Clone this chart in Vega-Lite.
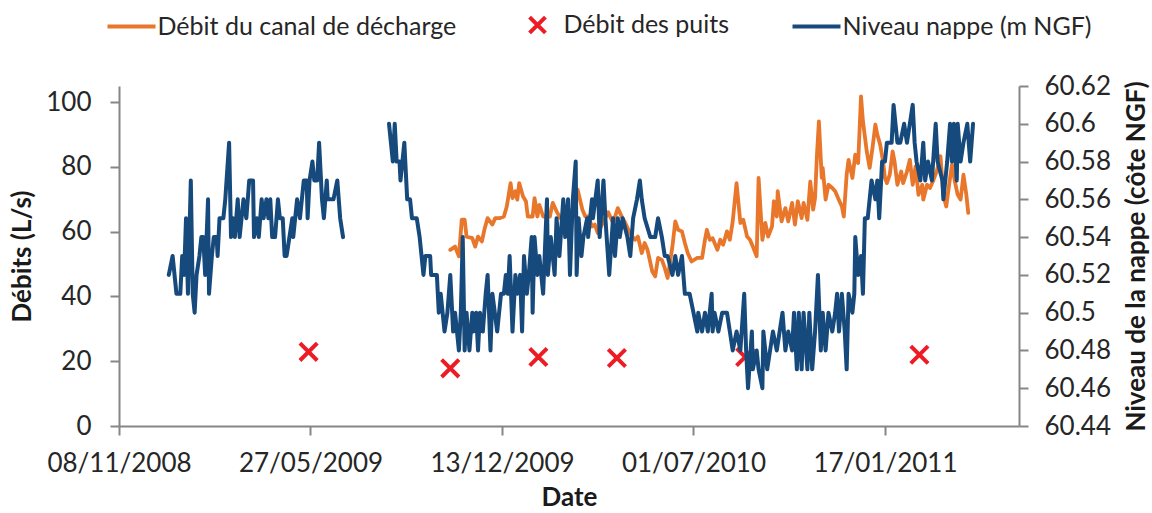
{
"$schema": "https://vega.github.io/schema/vega-lite/v6.json",
"width": 900, "height": 340,
"autosize": {"type": "none"},
"padding": {"left": 119, "top": 86, "right": 133, "bottom": 87},
"background": "white",
"datasets": {
"canal": [
{"date":"2009-10-20","debit":54.4},{"date":"2009-10-25","debit":55.4},{"date":"2009-10-29","debit":52.4},{"date":"2009-11-01","debit":63.7},{"date":"2009-11-04","debit":63.7},{"date":"2009-11-06","debit":58.5},{"date":"2009-11-12","debit":58},{"date":"2009-11-15","debit":55.4},{"date":"2009-11-18","debit":58.5},{"date":"2009-11-22","debit":57},{"date":"2009-11-25","debit":61.1},{"date":"2009-11-28","debit":64.2},{"date":"2009-12-03","debit":62.2},{"date":"2009-12-06","debit":64.2},{"date":"2009-12-11","debit":64.2},{"date":"2009-12-15","debit":64.7},{"date":"2009-12-18","debit":67.8},{"date":"2009-12-22","debit":75},{"date":"2009-12-24","debit":70.4},{"date":"2009-12-27","debit":72.5},{"date":"2009-12-29","debit":69.9},{"date":"2009-12-31","debit":75},
{"date":"2010-01-04","debit":70.9},{"date":"2010-01-07","debit":69.4},{"date":"2010-01-09","debit":64.7},{"date":"2010-01-14","debit":64.7},{"date":"2010-01-16","debit":70.4},{"date":"2010-01-19","debit":64.7},{"date":"2010-01-21","debit":68.3},{"date":"2010-01-25","debit":64.7},{"date":"2010-01-29","debit":64.7},{"date":"2010-02-01","debit":64.7},{"date":"2010-02-04","debit":68.9},{"date":"2010-02-08","debit":66.3},{"date":"2010-02-12","debit":64.2},{"date":"2010-02-17","debit":65.8},{"date":"2010-02-21","debit":66.8},{"date":"2010-02-25","debit":65.8},{"date":"2010-03-02","debit":73},{"date":"2010-03-07","debit":66.8},{"date":"2010-03-10","debit":64.7},{"date":"2010-03-13","debit":64.7},{"date":"2010-03-17","debit":61.6},{"date":"2010-03-20","debit":62.2},{"date":"2010-03-23","debit":59.6},{"date":"2010-03-29","debit":63.2},{"date":"2010-04-03","debit":66},{"date":"2010-04-08","debit":62.7},{"date":"2010-04-13","debit":67.3},{"date":"2010-04-17","debit":64.7},{"date":"2010-04-20","debit":63.2},{"date":"2010-04-24","debit":60.6},{"date":"2010-04-28","debit":58.5},{"date":"2010-05-01","debit":57.5},{"date":"2010-05-04","debit":58.5},{"date":"2010-05-08","debit":53.4},{"date":"2010-05-11","debit":56.5},{"date":"2010-05-14","debit":54.4},{"date":"2010-05-19","debit":47.7},{"date":"2010-05-22","debit":46.2},{"date":"2010-05-25","debit":51.9},{"date":"2010-05-29","debit":51.3},{"date":"2010-06-01","debit":48.8},{"date":"2010-06-04","debit":45.7},{"date":"2010-06-09","debit":55.4},{"date":"2010-06-12","debit":63.2},{"date":"2010-06-15","debit":60.6},{"date":"2010-06-19","debit":60.1},{"date":"2010-06-22","debit":56.5},{"date":"2010-06-25","debit":53.4},{"date":"2010-06-29","debit":50.8},{"date":"2010-07-05","debit":51.9},{"date":"2010-07-10","debit":51.9},{"date":"2010-07-13","debit":57.5},{"date":"2010-07-15","debit":60.6},{"date":"2010-07-18","debit":57.5},{"date":"2010-07-21","debit":58},{"date":"2010-07-26","debit":54.4},{"date":"2010-07-29","debit":57.5},{"date":"2010-08-01","debit":56},{"date":"2010-08-05","debit":60.1},{"date":"2010-08-08","debit":57.5},{"date":"2010-08-11","debit":63.2},{"date":"2010-08-15","debit":75},{"date":"2010-08-19","debit":62.7},{"date":"2010-08-22","debit":63.7},{"date":"2010-08-26","debit":58.5},{"date":"2010-08-29","debit":57.5},{"date":"2010-09-01","debit":55.4},{"date":"2010-09-05","debit":52.4},{"date":"2010-09-07","debit":76.6},{"date":"2010-09-11","debit":57.5},{"date":"2010-09-14","debit":62.7},{"date":"2010-09-17","debit":58.5},{"date":"2010-09-21","debit":61.6},{"date":"2010-09-23","debit":69.4},{"date":"2010-09-26","debit":64.7},{"date":"2010-09-27","debit":72.5},{"date":"2010-10-01","debit":63.2},{"date":"2010-10-05","debit":67.3},{"date":"2010-10-08","debit":63.2},{"date":"2010-10-12","debit":68.9},{"date":"2010-10-15","debit":62.2},{"date":"2010-10-18","debit":69.4},{"date":"2010-10-22","debit":64.2},{"date":"2010-10-24","debit":68.9},{"date":"2010-10-28","debit":63.7},{"date":"2010-10-31","debit":75.5},{"date":"2010-11-03","debit":66.8},{"date":"2010-11-05","debit":70.4},{"date":"2010-11-07","debit":83.8},{"date":"2010-11-09","debit":94.1},{"date":"2010-11-12","debit":76.6},{"date":"2010-11-13","debit":79.7},{"date":"2010-11-16","debit":69.9},{"date":"2010-11-19","debit":74.5},{"date":"2010-11-23","debit":73.5},{"date":"2010-11-26","debit":72.5},{"date":"2010-11-29","debit":70.4},{"date":"2010-12-03","debit":67.8},{"date":"2010-12-05","debit":64.7},{"date":"2010-12-08","debit":77.6},{"date":"2010-12-10","debit":82.2},{"date":"2010-12-14","debit":76.6},{"date":"2010-12-17","debit":83.8},{"date":"2010-12-20","debit":81.2},{"date":"2010-12-23","debit":101.8},{"date":"2010-12-25","debit":94.1},{"date":"2010-12-27","debit":89.5},{"date":"2010-12-29","debit":84.8},
{"date":"2011-01-01","debit":79.7},{"date":"2011-01-04","debit":85.9},{"date":"2011-01-07","debit":93.1},{"date":"2011-01-09","debit":90},{"date":"2011-01-12","debit":86.9},{"date":"2011-01-15","debit":81.7},{"date":"2011-01-17","debit":76.6},{"date":"2011-01-19","debit":75},{"date":"2011-01-22","debit":77.6},{"date":"2011-01-25","debit":84.8},{"date":"2011-01-27","debit":81.7},{"date":"2011-01-30","debit":74.5},{"date":"2011-02-03","debit":78.6},{"date":"2011-02-05","debit":75},{"date":"2011-02-09","debit":78.6},{"date":"2011-02-12","debit":82.2},{"date":"2011-02-15","debit":74.5},{"date":"2011-02-18","debit":80.2},{"date":"2011-02-21","debit":71.4},{"date":"2011-02-25","debit":74.5},{"date":"2011-02-26","debit":69.9},{"date":"2011-03-02","debit":74.5},{"date":"2011-03-05","debit":73.5},{"date":"2011-03-08","debit":75.5},{"date":"2011-03-12","debit":78.6},{"date":"2011-03-16","debit":83.3},{"date":"2011-03-19","debit":71.4},{"date":"2011-03-22","debit":67.8},{"date":"2011-03-25","debit":74.5},{"date":"2011-03-28","debit":80.7},{"date":"2011-03-31","debit":75.5},{"date":"2011-04-03","debit":71.4},{"date":"2011-04-06","debit":69.9},{"date":"2011-04-09","debit":77.6},{"date":"2011-04-12","debit":71.4},{"date":"2011-04-14","debit":65.8}
],
"puits": [
{"date":"2009-05-25","debit":22.9},{"date":"2009-10-20","debit":17.8},{"date":"2010-01-20","debit":21.3},{"date":"2010-04-12","debit":21.0},{"date":"2010-08-24","debit":21.3},{"date":"2011-02-22","debit":22.0}
],
"nappe": [
{"date":"2008-12-30","niveau":60.52,"seg":1},{"date":"2009-01-03","niveau":60.53,"seg":1},{"date":"2009-01-07","niveau":60.51,"seg":1},{"date":"2009-01-11","niveau":60.51,"seg":1},{"date":"2009-01-13","niveau":60.53,"seg":1},{"date":"2009-01-15","niveau":60.52,"seg":1},{"date":"2009-01-17","niveau":60.55,"seg":1},{"date":"2009-01-19","niveau":60.51,"seg":1},{"date":"2009-01-22","niveau":60.57,"seg":1},{"date":"2009-01-24","niveau":60.51,"seg":1},{"date":"2009-01-26","niveau":60.50,"seg":1},{"date":"2009-01-28","niveau":60.52,"seg":1},{"date":"2009-01-31","niveau":60.53,"seg":1},{"date":"2009-02-02","niveau":60.54,"seg":1},{"date":"2009-02-04","niveau":60.54,"seg":1},{"date":"2009-02-06","niveau":60.52,"seg":1},{"date":"2009-02-09","niveau":60.56,"seg":1},{"date":"2009-02-10","niveau":60.51,"seg":1},{"date":"2009-02-13","niveau":60.53,"seg":1},{"date":"2009-02-15","niveau":60.54,"seg":1},{"date":"2009-02-18","niveau":60.54,"seg":1},{"date":"2009-02-19","niveau":60.53,"seg":1},{"date":"2009-02-21","niveau":60.55,"seg":1},{"date":"2009-02-25","niveau":60.55,"seg":1},{"date":"2009-02-27","niveau":60.56,"seg":1},{"date":"2009-03-03","niveau":60.59,"seg":1},{"date":"2009-03-05","niveau":60.54,"seg":1},{"date":"2009-03-07","niveau":60.55,"seg":1},{"date":"2009-03-09","niveau":60.54,"seg":1},{"date":"2009-03-12","niveau":60.56,"seg":1},{"date":"2009-03-14","niveau":60.54,"seg":1},{"date":"2009-03-18","niveau":60.56,"seg":1},{"date":"2009-03-21","niveau":60.55,"seg":1},{"date":"2009-03-24","niveau":60.57,"seg":1},{"date":"2009-03-28","niveau":60.57,"seg":1},{"date":"2009-03-29","niveau":60.54,"seg":1},{"date":"2009-04-01","niveau":60.55,"seg":1},{"date":"2009-04-03","niveau":60.54,"seg":1},{"date":"2009-04-06","niveau":60.56,"seg":1},{"date":"2009-04-08","niveau":60.55,"seg":1},{"date":"2009-04-11","niveau":60.56,"seg":1},{"date":"2009-04-13","niveau":60.55,"seg":1},{"date":"2009-04-15","niveau":60.56,"seg":1},{"date":"2009-04-17","niveau":60.54,"seg":1},{"date":"2009-04-20","niveau":60.54,"seg":1},{"date":"2009-04-23","niveau":60.56,"seg":1},{"date":"2009-04-25","niveau":60.55,"seg":1},{"date":"2009-04-28","niveau":60.55,"seg":1},{"date":"2009-04-30","niveau":60.53,"seg":1},{"date":"2009-05-02","niveau":60.53,"seg":1},{"date":"2009-05-05","niveau":60.54,"seg":1},{"date":"2009-05-08","niveau":60.55,"seg":1},{"date":"2009-05-09","niveau":60.54,"seg":1},{"date":"2009-05-13","niveau":60.56,"seg":1},{"date":"2009-05-16","niveau":60.55,"seg":1},{"date":"2009-05-18","niveau":60.56,"seg":1},{"date":"2009-05-20","niveau":60.57,"seg":1},{"date":"2009-05-23","niveau":60.57,"seg":1},{"date":"2009-05-24","niveau":60.55,"seg":1},{"date":"2009-05-26","niveau":60.57,"seg":1},{"date":"2009-05-29","niveau":60.58,"seg":1},{"date":"2009-05-31","niveau":60.57,"seg":1},{"date":"2009-06-03","niveau":60.57,"seg":1},{"date":"2009-06-05","niveau":60.59,"seg":1},{"date":"2009-06-08","niveau":60.56,"seg":1},{"date":"2009-06-10","niveau":60.55,"seg":1},{"date":"2009-06-13","niveau":60.57,"seg":1},{"date":"2009-06-14","niveau":60.56,"seg":1},{"date":"2009-06-20","niveau":60.56,"seg":1},{"date":"2009-06-24","niveau":60.57,"seg":1},{"date":"2009-06-27","niveau":60.55,"seg":1},{"date":"2009-06-30","niveau":60.54,"seg":1},
{"date":"2009-08-17","niveau":60.60,"seg":2},{"date":"2009-08-21","niveau":60.58,"seg":2},{"date":"2009-08-23","niveau":60.60,"seg":2},{"date":"2009-08-25","niveau":60.58,"seg":2},{"date":"2009-08-28","niveau":60.58,"seg":2},{"date":"2009-08-29","niveau":60.57,"seg":2},{"date":"2009-09-02","niveau":60.59,"seg":2},{"date":"2009-09-04","niveau":60.57,"seg":2},{"date":"2009-09-05","niveau":60.56,"seg":2},{"date":"2009-09-08","niveau":60.56,"seg":2},{"date":"2009-09-10","niveau":60.55,"seg":2},{"date":"2009-09-15","niveau":60.55,"seg":2},{"date":"2009-09-18","niveau":60.54,"seg":2},{"date":"2009-09-20","niveau":60.53,"seg":2},{"date":"2009-09-22","niveau":60.52,"seg":2},{"date":"2009-09-24","niveau":60.53,"seg":2},{"date":"2009-09-29","niveau":60.53,"seg":2},{"date":"2009-09-30","niveau":60.52,"seg":2},{"date":"2009-10-06","niveau":60.52,"seg":2},{"date":"2009-10-07","niveau":60.51,"seg":2},{"date":"2009-10-08","niveau":60.50,"seg":2},{"date":"2009-10-10","niveau":60.51,"seg":2},{"date":"2009-10-12","niveau":60.50,"seg":2},{"date":"2009-10-14","niveau":60.49,"seg":2},{"date":"2009-10-17","niveau":60.50,"seg":2},{"date":"2009-10-20","niveau":60.52,"seg":2},{"date":"2009-10-23","niveau":60.49,"seg":2},{"date":"2009-10-25","niveau":60.50,"seg":2},{"date":"2009-10-27","niveau":60.49,"seg":2},{"date":"2009-10-29","niveau":60.48,"seg":2},{"date":"2009-10-31","niveau":60.50,"seg":2},{"date":"2009-11-02","niveau":60.54,"seg":2},{"date":"2009-11-04","niveau":60.48,"seg":2},{"date":"2009-11-06","niveau":60.50,"seg":2},{"date":"2009-11-09","niveau":60.48,"seg":2},{"date":"2009-11-12","niveau":60.50,"seg":2},{"date":"2009-11-13","niveau":60.49,"seg":2},{"date":"2009-11-16","niveau":60.50,"seg":2},{"date":"2009-11-18","niveau":60.48,"seg":2},{"date":"2009-11-20","niveau":60.50,"seg":2},{"date":"2009-11-23","niveau":60.49,"seg":2},{"date":"2009-11-26","niveau":60.51,"seg":2},{"date":"2009-11-28","niveau":60.52,"seg":2},{"date":"2009-12-01","niveau":60.48,"seg":2},{"date":"2009-12-03","niveau":60.51,"seg":2},{"date":"2009-12-08","niveau":60.49,"seg":2},{"date":"2009-12-12","niveau":60.51,"seg":2},{"date":"2009-12-15","niveau":60.51,"seg":2},{"date":"2009-12-17","niveau":60.52,"seg":2},{"date":"2009-12-19","niveau":60.51,"seg":2},{"date":"2009-12-21","niveau":60.53,"seg":2},{"date":"2009-12-24","niveau":60.49,"seg":2},{"date":"2009-12-27","niveau":60.52,"seg":2},{"date":"2009-12-29","niveau":60.51,"seg":2},
{"date":"2010-01-01","niveau":60.52,"seg":2},{"date":"2010-01-03","niveau":60.49,"seg":2},{"date":"2010-01-05","niveau":60.53,"seg":2},{"date":"2010-01-08","niveau":60.51,"seg":2},{"date":"2010-01-10","niveau":60.52,"seg":2},{"date":"2010-01-13","niveau":60.54,"seg":2},{"date":"2010-01-14","niveau":60.50,"seg":2},{"date":"2010-01-16","niveau":60.54,"seg":2},{"date":"2010-01-19","niveau":60.52,"seg":2},{"date":"2010-01-21","niveau":60.53,"seg":2},{"date":"2010-01-25","niveau":60.51,"seg":2},{"date":"2010-01-29","niveau":60.56,"seg":2},{"date":"2010-01-30","niveau":60.52,"seg":2},{"date":"2010-02-02","niveau":60.54,"seg":2},{"date":"2010-02-04","niveau":60.53,"seg":2},{"date":"2010-02-06","niveau":60.52,"seg":2},{"date":"2010-02-08","niveau":60.55,"seg":2},{"date":"2010-02-11","niveau":60.53,"seg":2},{"date":"2010-02-15","niveau":60.56,"seg":2},{"date":"2010-02-17","niveau":60.54,"seg":2},{"date":"2010-02-20","niveau":60.56,"seg":2},{"date":"2010-02-22","niveau":60.52,"seg":2},{"date":"2010-02-25","niveau":60.56,"seg":2},{"date":"2010-02-28","niveau":60.58,"seg":2},{"date":"2010-03-01","niveau":60.52,"seg":2},{"date":"2010-03-03","niveau":60.55,"seg":2},{"date":"2010-03-06","niveau":60.53,"seg":2},{"date":"2010-03-08","niveau":60.54,"seg":2},{"date":"2010-03-12","niveau":60.55,"seg":2},{"date":"2010-03-13","niveau":60.54,"seg":2},{"date":"2010-03-17","niveau":60.56,"seg":2},{"date":"2010-03-18","niveau":60.55,"seg":2},{"date":"2010-03-23","niveau":60.57,"seg":2},{"date":"2010-03-25","niveau":60.54,"seg":2},{"date":"2010-03-29","niveau":60.57,"seg":2},{"date":"2010-03-31","niveau":60.55,"seg":2},{"date":"2010-04-04","niveau":60.52,"seg":2},{"date":"2010-04-08","niveau":60.55,"seg":2},{"date":"2010-04-10","niveau":60.53,"seg":2},{"date":"2010-04-13","niveau":60.55,"seg":2},{"date":"2010-04-15","niveau":60.54,"seg":2},{"date":"2010-04-18","niveau":60.55,"seg":2},{"date":"2010-04-23","niveau":60.54,"seg":2},{"date":"2010-04-26","niveau":60.53,"seg":2},{"date":"2010-04-29","niveau":60.55,"seg":2},{"date":"2010-05-03","niveau":60.56,"seg":2},{"date":"2010-05-06","niveau":60.57,"seg":2},{"date":"2010-05-08","niveau":60.56,"seg":2},{"date":"2010-05-11","niveau":60.55,"seg":2},{"date":"2010-05-17","niveau":60.54,"seg":2},{"date":"2010-05-22","niveau":60.54,"seg":2},{"date":"2010-05-25","niveau":60.55,"seg":2},{"date":"2010-05-29","niveau":60.54,"seg":2},{"date":"2010-06-01","niveau":60.53,"seg":2},{"date":"2010-06-04","niveau":60.53,"seg":2},{"date":"2010-06-09","niveau":60.52,"seg":2},{"date":"2010-06-12","niveau":60.53,"seg":2},{"date":"2010-06-15","niveau":60.52,"seg":2},{"date":"2010-06-19","niveau":60.53,"seg":2},{"date":"2010-06-22","niveau":60.51,"seg":2},{"date":"2010-06-27","niveau":60.51,"seg":2},{"date":"2010-07-01","niveau":60.50,"seg":2},{"date":"2010-07-05","niveau":60.49,"seg":2},{"date":"2010-07-06","niveau":60.50,"seg":2},{"date":"2010-07-10","niveau":60.49,"seg":2},{"date":"2010-07-13","niveau":60.50,"seg":2},{"date":"2010-07-16","niveau":60.49,"seg":2},{"date":"2010-07-20","niveau":60.51,"seg":2},{"date":"2010-07-21","niveau":60.49,"seg":2},{"date":"2010-07-23","niveau":60.50,"seg":2},{"date":"2010-07-27","niveau":60.49,"seg":2},{"date":"2010-07-31","niveau":60.50,"seg":2},{"date":"2010-08-05","niveau":60.50,"seg":2},{"date":"2010-08-08","niveau":60.49,"seg":2},{"date":"2010-08-11","niveau":60.48,"seg":2},{"date":"2010-08-15","niveau":60.49,"seg":2},{"date":"2010-08-19","niveau":60.48,"seg":2},{"date":"2010-08-23","niveau":60.51,"seg":2},{"date":"2010-08-25","niveau":60.48,"seg":2},{"date":"2010-08-27","niveau":60.46,"seg":2},{"date":"2010-08-31","niveau":60.49,"seg":2},{"date":"2010-09-01","niveau":60.47,"seg":2},{"date":"2010-09-05","niveau":60.48,"seg":2},{"date":"2010-09-07","niveau":60.47,"seg":2},{"date":"2010-09-11","niveau":60.46,"seg":2},{"date":"2010-09-12","niveau":60.49,"seg":2},{"date":"2010-09-16","niveau":60.47,"seg":2},{"date":"2010-09-19","niveau":60.48,"seg":2},{"date":"2010-09-22","niveau":60.49,"seg":2},{"date":"2010-09-26","niveau":60.48,"seg":2},{"date":"2010-09-29","niveau":60.49,"seg":2},{"date":"2010-10-02","niveau":60.50,"seg":2},{"date":"2010-10-05","niveau":60.48,"seg":2},{"date":"2010-10-08","niveau":60.49,"seg":2},{"date":"2010-10-12","niveau":60.48,"seg":2},{"date":"2010-10-14","niveau":60.50,"seg":2},{"date":"2010-10-17","niveau":60.47,"seg":2},{"date":"2010-10-19","niveau":60.50,"seg":2},{"date":"2010-10-22","niveau":60.47,"seg":2},{"date":"2010-10-24","niveau":60.50,"seg":2},{"date":"2010-10-28","niveau":60.47,"seg":2},{"date":"2010-10-30","niveau":60.50,"seg":2},{"date":"2010-11-02","niveau":60.47,"seg":2},{"date":"2010-11-05","niveau":60.49,"seg":2},{"date":"2010-11-08","niveau":60.52,"seg":2},{"date":"2010-11-11","niveau":60.48,"seg":2},{"date":"2010-11-13","niveau":60.50,"seg":2},{"date":"2010-11-16","niveau":60.48,"seg":2},{"date":"2010-11-19","niveau":60.50,"seg":2},{"date":"2010-11-23","niveau":60.49,"seg":2},{"date":"2010-11-26","niveau":60.50,"seg":2},{"date":"2010-11-28","niveau":60.51,"seg":2},{"date":"2010-11-30","niveau":60.49,"seg":2},{"date":"2010-12-03","niveau":60.51,"seg":2},{"date":"2010-12-06","niveau":60.49,"seg":2},{"date":"2010-12-08","niveau":60.47,"seg":2},{"date":"2010-12-10","niveau":60.51,"seg":2},{"date":"2010-12-14","niveau":60.50,"seg":2},{"date":"2010-12-16","niveau":60.51,"seg":2},{"date":"2010-12-17","niveau":60.54,"seg":2},{"date":"2010-12-20","niveau":60.52,"seg":2},{"date":"2010-12-23","niveau":60.53,"seg":2},{"date":"2010-12-25","niveau":60.51,"seg":2},{"date":"2010-12-27","niveau":60.55,"seg":2},{"date":"2010-12-30","niveau":60.55,"seg":2},
{"date":"2011-01-03","niveau":60.57,"seg":2},{"date":"2011-01-07","niveau":60.56,"seg":2},{"date":"2011-01-09","niveau":60.57,"seg":2},{"date":"2011-01-11","niveau":60.55,"seg":2},{"date":"2011-01-14","niveau":60.58,"seg":2},{"date":"2011-01-17","niveau":60.58,"seg":2},{"date":"2011-01-19","niveau":60.59,"seg":2},{"date":"2011-01-24","niveau":60.59,"seg":2},{"date":"2011-01-26","niveau":60.61,"seg":2},{"date":"2011-01-30","niveau":60.59,"seg":2},{"date":"2011-02-02","niveau":60.59,"seg":2},{"date":"2011-02-06","niveau":60.60,"seg":2},{"date":"2011-02-09","niveau":60.59,"seg":2},{"date":"2011-02-12","niveau":60.60,"seg":2},{"date":"2011-02-15","niveau":60.61,"seg":2},{"date":"2011-02-17","niveau":60.59,"seg":2},{"date":"2011-02-19","niveau":60.58,"seg":2},{"date":"2011-02-23","niveau":60.57,"seg":2},{"date":"2011-02-26","niveau":60.59,"seg":2},{"date":"2011-02-28","niveau":60.57,"seg":2},{"date":"2011-03-03","niveau":60.58,"seg":2},{"date":"2011-03-07","niveau":60.57,"seg":2},{"date":"2011-03-11","niveau":60.60,"seg":2},{"date":"2011-03-13","niveau":60.58,"seg":2},{"date":"2011-03-18","niveau":60.57,"seg":2},{"date":"2011-03-19","niveau":60.56,"seg":2},{"date":"2011-03-23","niveau":60.58,"seg":2},{"date":"2011-03-26","niveau":60.60,"seg":2},{"date":"2011-03-28","niveau":60.58,"seg":2},{"date":"2011-03-30","niveau":60.60,"seg":2},{"date":"2011-04-02","niveau":60.57,"seg":2},{"date":"2011-04-03","niveau":60.60,"seg":2},{"date":"2011-04-06","niveau":60.58,"seg":2},{"date":"2011-04-09","niveau":60.59,"seg":2},{"date":"2011-04-13","niveau":60.60,"seg":2},{"date":"2011-04-16","niveau":60.58,"seg":2},{"date":"2011-04-19","niveau":60.60,"seg":2}
]
},
"encoding": {
  "x": {
    "field": "date", "type": "temporal",
    "scale": {"type": "utc", "domain": [{"year": 2008, "month": 11, "date": 8, "utc": true}, {"year": 2011, "month": 6, "date": 6, "utc": true}]},
    "axis": {
      "title": "Date",
      "values": [{"year": 2008, "month": 11, "date": 8, "utc": true}, {"year": 2009, "month": 5, "date": 27, "utc": true}, {"year": 2009, "month": 12, "date": 13, "utc": true}, {"year": 2010, "month": 7, "date": 1, "utc": true}, {"year": 2011, "month": 1, "date": 17, "utc": true}],
      "labelExpr": "utcFormat(datum.value, '%d/%m/%Y')",
      "labelPadding": 15, "titlePadding": 8, "labelFlush": false, "labelOverlap": false
    }
  }
},
"layer": [
  {
    "encoding": {
      "y": {"field": "debit", "type": "quantitative", "scale": {"domain": [0, 105], "nice": false, "zero": true},
        "axis": {"title": "Débits (L/s)", "orient": "left", "values": [0, 20, 40, 60, 80, 100], "format": "d", "labelPadding": 19, "titlePadding": 10}}
    },
    "layer": [
      {
        "data": {"name": "canal"},
        "mark": {"type": "line", "strokeWidth": 3.8, "strokeJoin": "round", "strokeCap": "round"},
        "encoding": {
          "color": {"datum": "Débit du canal de décharge", "type": "nominal",
            "scale": {"domain": ["Débit du canal de décharge", "Débit des puits", "Niveau nappe (m NGF)"], "range": ["#E8762B", "#ED1C24", "#174A7C"]},
            "legend": {"orient": "none", "legendX": -13.5, "legendY": -87, "direction": "horizontal", "columns": 3, "title": null,
              "symbolType": "stroke", "symbolSize": 2304, "symbolStrokeWidth": 4, "labelFont": "Lato", "labelFontSize": 25, "labelColor": "#262626",
              "labelOffset": 0, "labelLimit": 600, "columnPadding": 55, "padding": 0,
              "encode": {"symbols": {"update": {
                "shape": [{"test": "datum.value === 'Débit des puits'", "value": "M-0.33,-0.33L0.33,0.33M0.33,-0.33L-0.33,0.33"}, {"value": "stroke"}],
                "fill": {"value": "transparent"},
                "stroke": {"scale": "color", "field": "value"},
                "opacity": {"value": 1}
              }}}
            }
          }
        }
      },
      {
        "data": {"name": "puits"},
        "mark": {"type": "point", "shape": "M-1,-1L1,1M1,-1L-1,1", "filled": false, "size": 300, "strokeWidth": 4, "opacity": 1},
        "encoding": {
          "color": {"datum": "Débit des puits", "type": "nominal"}
        }
      }
    ]
  },
  {
    "data": {"name": "nappe"},
    "mark": {"type": "line", "strokeWidth": 4, "strokeJoin": "round", "strokeCap": "round"},
    "encoding": {
      "y": {"field": "niveau", "type": "quantitative", "scale": {"domain": [60.44, 60.62], "nice": false, "zero": false},
        "axis": {"title": "Niveau de la nappe (côte NGF)", "orient": "right", "values": [60.44, 60.46, 60.48, 60.5, 60.52, 60.54, 60.56, 60.58, 60.6, 60.62], "format": "~f", "labelPadding": 16, "titlePadding": 13, "titleAngle": 270, "titleBaseline": "top"}},
      "detail": {"field": "seg", "type": "nominal"},
      "color": {"datum": "Niveau nappe (m NGF)", "type": "nominal"}
    }
  }
],
"resolve": {"scale": {"y": "independent"}},
"config": {
  "view": {"stroke": null},
  "axis": {
    "grid": false, "domainColor": "#868686", "domainWidth": 2, "tickColor": "#868686", "tickWidth": 2, "tickSize": 9,
    "labelFont": "Lato", "labelFontSize": 26, "labelColor": "#262626",
    "titleFont": "Lato", "titleFontSize": 26, "titleFontWeight": "bold", "titleColor": "#1a1a1a"
  }
}
}
